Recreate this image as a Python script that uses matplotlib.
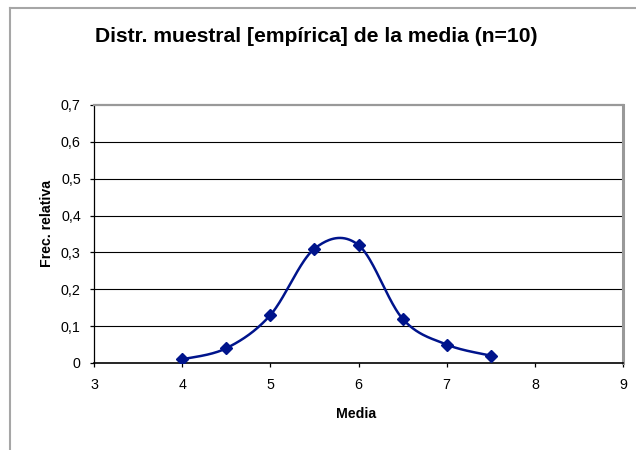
import numpy as np
import matplotlib
matplotlib.use("Agg")
import matplotlib.pyplot as plt
from matplotlib.lines import Line2D
from matplotlib.ticker import FuncFormatter, MultipleLocator

plt.rcParams['font.family'] = ['Liberation Sans', 'DejaVu Sans']

# Sample means and their relative frequencies
medias = [4.0, 4.5, 5.0, 5.5, 6.0, 6.5, 7.0, 7.5]
frec_relativa = [0.01, 0.04, 0.13, 0.31, 0.32, 0.12, 0.05, 0.02]

titulo = "Distr. muestral [empírica] de la media (n=10)"
etiqueta_x = "Media"
etiqueta_y = "Frec. relativa"

color_serie = '#00148c'


def suavizar(xs, ys, n=40):
    """Smooth line through the points using cubic Bezier segments
    with Catmull-Rom style control points."""
    pts = np.column_stack([xs, ys]).astype(float)
    out = []
    m = len(pts)
    for i in range(m - 1):
        p0 = pts[max(i - 1, 0)]
        p1 = pts[i]
        p2 = pts[i + 1]
        p3 = pts[min(i + 2, m - 1)]
        c1 = p1 + (p2 - p0) / 6.0
        c2 = p2 - (p3 - p1) / 6.0
        t = np.linspace(0, 1, n)[:, None]
        seg = ((1 - t) ** 3) * p1 + 3 * ((1 - t) ** 2) * t * c1 \
            + 3 * (1 - t) * t ** 2 * c2 + t ** 3 * p2
        if i > 0:
            seg = seg[1:]
        out.append(seg)
    curve = np.vstack(out)
    return curve[:, 0], curve[:, 1]


W, H = 636, 450
fig = plt.figure(figsize=(W / 100, H / 100), dpi=100)
fig.patch.set_facecolor('white')

# Chart area frame (left and top edges)
fig.add_artist(Line2D([10 / W, 10 / W], [0, 1 - 8 / H], transform=fig.transFigure,
                      color='#a6a6a6', lw=1.5))
fig.add_artist(Line2D([10 / W, 1], [1 - 8 / H, 1 - 8 / H], transform=fig.transFigure,
                      color='#a6a6a6', lw=1.5))

left, right, top, bottom = 94, 623, 105, 363
ax = fig.add_axes([left / W, 1 - bottom / H, (right - left) / W, (bottom - top) / H])

sx, sy = suavizar(medias, frec_relativa)
ax.plot(sx, sy, color=color_serie, lw=1.8, zorder=3, solid_capstyle='round')
ax.plot(medias, frec_relativa, linestyle='none', marker='D', markersize=6,
        color=color_serie, zorder=4)

ax.set_xlim(3, 9)
ax.set_ylim(0, 0.7)
ax.xaxis.set_major_locator(MultipleLocator(1))
ax.yaxis.set_major_locator(MultipleLocator(0.1))
fmt = FuncFormatter(lambda v, p: ('%g' % round(v, 2)).replace('.', ','))
ax.xaxis.set_major_formatter(fmt)
ax.yaxis.set_major_formatter(fmt)

for yv in np.arange(0.1, 0.65, 0.1):
    ax.axhline(yv, color='#000000', lw=0.8, zorder=1)

ax.spines['top'].set_color('#999999')
ax.spines['top'].set_linewidth(1.6)
ax.spines['right'].set_color('#999999')
ax.spines['right'].set_linewidth(2.2)
ax.spines['left'].set_color('#000000')
ax.spines['left'].set_linewidth(0.9)
ax.spines['bottom'].set_color('#000000')
ax.spines['bottom'].set_linewidth(1.2)

ax.tick_params(axis='both', direction='out', length=3, width=0.9, color='black',
               labelsize=10.3, labelcolor='black')
ax.tick_params(axis='x', pad=8)
ax.tick_params(axis='y', pad=6.5)

fig.text(316 / W, 1 - 41.5 / H, titulo, ha='center', va='baseline',
         fontsize=15.2, fontweight='bold')
fig.text(356 / W, 1 - 414 / H, etiqueta_x, ha='center', va='center',
         fontsize=10.2, fontweight='bold')
fig.text(47 / W, 1 - 223 / H, etiqueta_y, ha='center', va='center',
         rotation=90, fontsize=10.2, fontweight='bold')

fig.savefig('out.png', dpi=100, facecolor='white')
